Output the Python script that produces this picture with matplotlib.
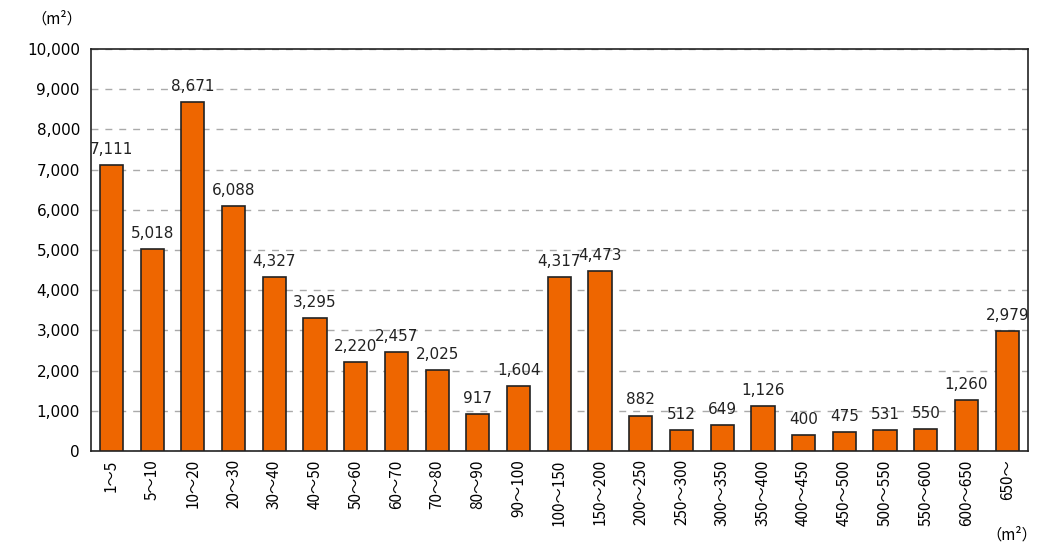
import matplotlib
matplotlib.use("Agg")
import matplotlib.pyplot as plt

plt.rcParams['font.family'] = ['DejaVu Sans', 'Noto Sans CJK JP']

categories = ['1〜5', '5〜10', '10〜20', '20〜30', '30〜40', '40〜50', '50〜60',
              '60〜70', '70〜80', '80〜90', '90〜100', '100〜150', '150〜200',
              '200〜250', '250〜300', '300〜350', '350〜400', '400〜450',
              '450〜500', '500〜550', '550〜600', '600〜650', '650〜']
values = [7111, 5018, 8671, 6088, 4327, 3295, 2220, 2457, 2025, 917, 1604,
          4317, 4473, 882, 512, 649, 1126, 400, 475, 531, 550, 1260, 2979]

cjk = ['Noto Sans CJK JP', 'DejaVu Sans']

fig = plt.figure(figsize=(10.38, 5.49), dpi=100)
ax = fig.add_axes([0.0877, 0.1785, 0.9023, 0.7325])

x = list(range(len(values)))
ax.bar(x, values, width=0.57, color='#EE6600', edgecolor='#222222', linewidth=1.2, zorder=3)

for xi, v in zip(x, values):
    ax.text(xi, v + 200, f'{v:,}', ha='center', va='bottom', fontsize=11, color='#222222')

ax.set_xlim(-0.5, len(values) - 0.5)
ax.set_ylim(0, 10000)
ax.set_yticks(range(0, 10001, 1000))
ax.set_yticklabels([f'{t:,}' for t in range(0, 10001, 1000)], fontsize=11)
ax.set_xticks(x)
ax.set_xticklabels(categories, rotation=90, fontsize=11)
for lab in ax.get_xticklabels():
    lab.set_fontfamily(cjk)
ax.tick_params(length=0)
ax.tick_params(axis='x', pad=6)
ax.tick_params(axis='y', pad=8)
ax.yaxis.grid(True, linestyle=(0, (5, 5)), color='#aaaaaa', linewidth=1, zorder=0)
for s in ax.spines.values():
    s.set_color('#222222')
    s.set_linewidth(1.2)

fig.text(0.055, 0.965, '（m²）', fontsize=11, ha='center', va='center', fontfamily=cjk)
fig.text(0.975, 0.025, '（m²）', fontsize=11, ha='center', va='center', fontfamily=cjk)

fig.savefig('out.png', dpi=100)
